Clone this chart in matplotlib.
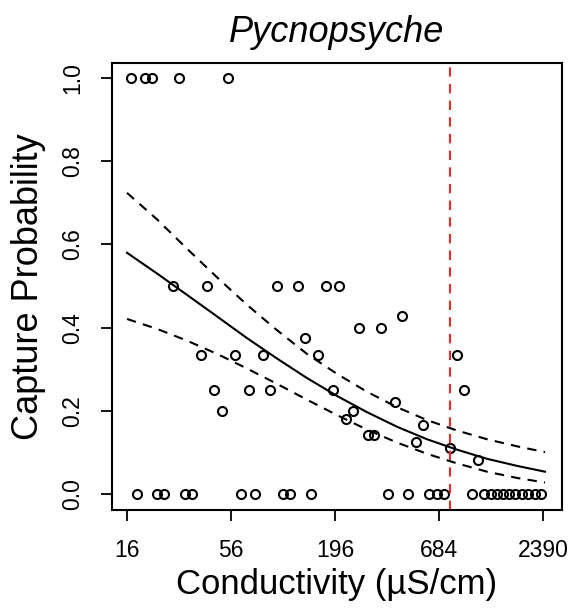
import numpy as np
import matplotlib
matplotlib.use("Agg")
import matplotlib.pyplot as plt

plt.rcParams['font.family'] = ['Liberation Sans', 'DejaVu Sans']

# observed capture proportions (conductivity in uS/cm)
obs_cond = [16.7, 19.9, 21.5, 30.0, 54.1,
            18.1, 23.0, 24.9, 32.0, 35.0, 63.3, 75.0, 104, 114, 146.5,
            369, 473, 609, 665, 729, 1014, 1180, 1274, 1370, 1473, 1589,
            1714, 1851, 2004, 2172, 2334,
            27.7, 42.1, 97, 124.8, 174.9, 206,
            262, 340, 440, 136,
            38.8, 58.9, 82.5, 160, 853,
            45.8, 69.5, 89.4, 190, 927,
            50.0, 244, 222, 403, 562, 290, 313, 517, 782, 1098]
obs_prob = [1, 1, 1, 1, 1,
            0, 0, 0, 0, 0, 0, 0, 0, 0, 0,
            0, 0, 0, 0, 0, 0, 0, 0, 0, 0, 0,
            0, 0, 0, 0, 0,
            0.5, 0.5, 0.5, 0.5, 0.5, 0.5,
            0.4, 0.4, 0.4286, 0.375,
            0.3333, 0.3333, 0.3333, 0.3333, 0.3333,
            0.25, 0.25, 0.25, 0.25, 0.25,
            0.2, 0.2, 0.1818, 0.2222, 0.1667, 0.1429, 0.1429, 0.125, 0.1111, 0.0833]

# fitted curve and 95% band
fit_cond = [16, 23.0, 32.9, 47.3, 67.8, 97.3, 139.6, 200.4, 287.6, 412.6,
            592, 849, 1219, 1749, 2450]
fit_prob = [0.580, 0.530, 0.479, 0.427, 0.375, 0.326, 0.279, 0.236, 0.197, 0.162,
            0.132, 0.107, 0.085, 0.068, 0.054]
up_prob = [0.724, 0.660, 0.590, 0.521, 0.455, 0.394, 0.337, 0.289, 0.246, 0.209,
           0.178, 0.153, 0.132, 0.115, 0.101]
lo_prob = [0.421, 0.397, 0.369, 0.337, 0.302, 0.265, 0.227, 0.190, 0.155, 0.124,
           0.097, 0.074, 0.054, 0.039, 0.028]

threshold = 781
xticks = [16, 56, 196, 684, 2390]
yticks = [0.0, 0.2, 0.4, 0.6, 0.8, 1.0]

fig = plt.figure(figsize=(5.73, 6.08), dpi=100)
ax = fig.add_axes([0.1955, 0.1612, 0.7853, 0.7352])

ax.plot(fit_cond, fit_prob, color='black', lw=1.5)
ax.plot(fit_cond, up_prob, color='black', lw=1.5, dashes=(4.5, 3.5))
ax.plot(fit_cond, lo_prob, color='black', lw=1.5, dashes=(4.5, 3.5))
ax.plot(obs_cond, obs_prob, 'o', mfc='none', mec='black', ms=6.5, mew=1.5)
ax.axvline(threshold, color='#f0282d', lw=1.5, dashes=(4.5, 3.5))

ax.set_xscale('log')
ax.set_xlim(13.36, 3006)
ax.set_ylim(-0.038, 1.036)
ax.set_xticks(xticks)
ax.set_xticklabels([str(t) for t in xticks])
ax.xaxis.set_minor_locator(matplotlib.ticker.NullLocator())
ax.set_yticks(yticks)
ax.set_yticklabels([f"{t:.1f}" for t in yticks], rotation=90, va='center')

ax.tick_params(axis='both', labelsize=16.5, length=8, width=1.3, direction='out')
ax.tick_params(axis='x', pad=13)
ax.tick_params(axis='y', pad=12)
for s in ax.spines.values():
    s.set_linewidth(1.5)

ax.set_xlabel('Conductivity (µS/cm)', fontsize=25, labelpad=4)
ax.set_ylabel('Capture Probability', fontsize=26, labelpad=11)
ax.set_title('Pycnopsyche', fontsize=26, style='italic', pad=15)

fig.savefig('out.png', dpi=100)
